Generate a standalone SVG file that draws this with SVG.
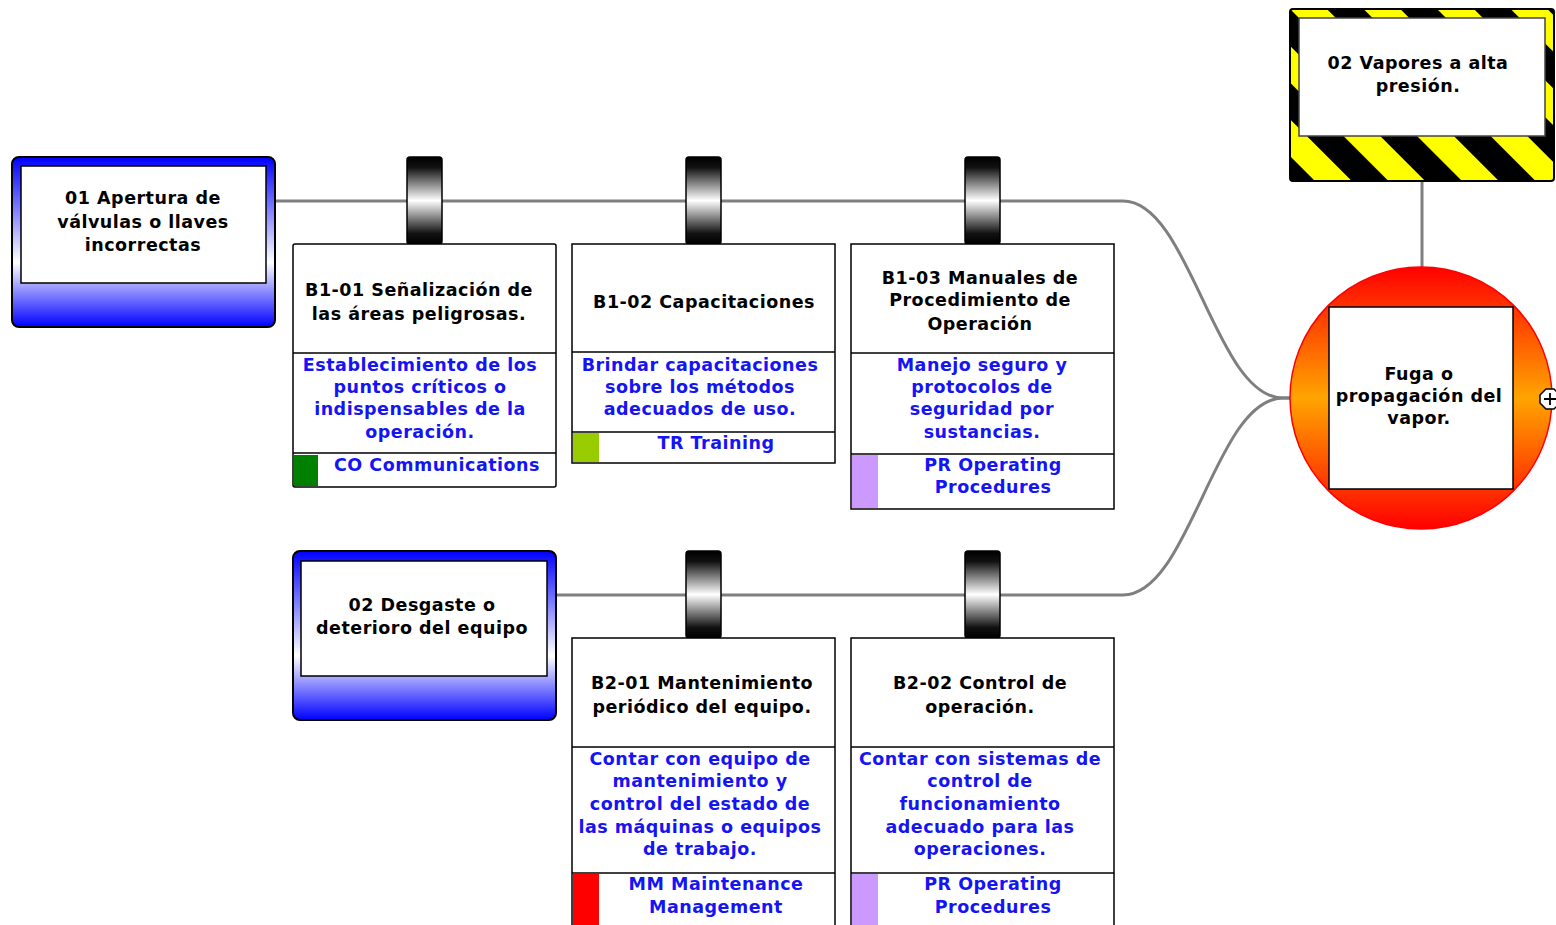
<svg xmlns="http://www.w3.org/2000/svg" width="1556" height="925" viewBox="0 0 1556 925">
  <defs>
    <linearGradient id="threatFill" x1="0" y1="0" x2="0" y2="1">
      <stop offset="0" stop-color="#0000ff"/>
      <stop offset="0.62" stop-color="#ffffff"/>
      <stop offset="1" stop-color="#0000ff"/>
    </linearGradient>
    <linearGradient id="pegFill" x1="0" y1="0" x2="0" y2="1">
      <stop offset="0" stop-color="#000000"/>
      <stop offset="0.12" stop-color="#111111"/>
      <stop offset="0.5" stop-color="#ffffff"/>
      <stop offset="0.88" stop-color="#111111"/>
      <stop offset="1" stop-color="#000000"/>
    </linearGradient>
    <linearGradient id="eventFill" x1="0" y1="0" x2="0" y2="1">
      <stop offset="0" stop-color="#ff0000"/>
      <stop offset="0.5" stop-color="#ffa500"/>
      <stop offset="1" stop-color="#ff0000"/>
    </linearGradient>
    <pattern id="hazardStripes" width="52" height="52" patternUnits="userSpaceOnUse" patternTransform="translate(1290,9) rotate(-45)">
      <rect x="0" y="0" width="52" height="52" fill="#000000"/>
      <rect x="0" y="0" width="26" height="52" fill="#ffff00"/>
    </pattern>
  </defs>
  <style>
    .t { font-family: "DejaVu Sans", Verdana, sans-serif; font-weight: bold; font-size: 17.5px; letter-spacing: 0.5px; text-anchor: middle; fill: #000000; }
    .d { fill: #1414f5; }
    .box { fill: #ffffff; stroke: #000000; stroke-width: 1.5; }
    .threat { fill: url(#threatFill); stroke: #000000; stroke-width: 2; }
    .peg { fill: url(#pegFill); stroke: #000000; stroke-width: 1.5; }
    .conn { fill: none; stroke: #7f7f7f; stroke-width: 3; }
  </style>

  <rect width="1556" height="925" fill="#ffffff"/>

  <!-- connectors -->
  <g id="connectors">
    <path class="conn" d="M275,201 H1123 C1190,201 1215,398 1283,398 H1291"/>
    <path class="conn" d="M556,595 H1123 C1190,595 1215,398 1283,398 H1291"/>
    <path class="conn" d="M1422,181 V268"/>
  </g>

  <!-- threat 01 -->
  <g id="threat-01">
    <rect class="threat" x="12" y="157" width="263" height="170" rx="7"/>
    <rect class="box" x="21" y="166" width="245" height="117"/>
    <text class="t" x="143" y="204">01 Apertura de</text>
    <text class="t" x="143" y="228">válvulas o llaves</text>
    <text class="t" x="143" y="251">incorrectas</text>
  </g>

  <!-- barrier B1-01 -->
  <g id="barrier-b1-01">
    <rect class="peg" x="407" y="157" width="35" height="87" rx="3"/>
    <rect class="box" x="293" y="244" width="263" height="243" rx="2"/>
    <line x1="293" y1="353" x2="556" y2="353" stroke="#000" stroke-width="1.5"/>
    <line x1="293" y1="453" x2="556" y2="453" stroke="#000" stroke-width="1.5"/>
    <rect x="294" y="455" width="24" height="31" fill="#008000"/>
    <text class="t" x="419" y="296">B1-01 Señalización de</text>
    <text class="t" x="419" y="320">las áreas peligrosas.</text>
    <text class="t d" x="420" y="371">Establecimiento de los</text>
    <text class="t d" x="420" y="393">puntos críticos o</text>
    <text class="t d" x="420" y="415">indispensables de la</text>
    <text class="t d" x="420" y="438">operación.</text>
    <text class="t d" x="437" y="471">CO Communications</text>
  </g>

  <!-- barrier B1-02 -->
  <g id="barrier-b1-02">
    <rect class="peg" x="686" y="157" width="35" height="87" rx="3"/>
    <rect class="box" x="572" y="244" width="263" height="219"/>
    <line x1="572" y1="352" x2="835" y2="352" stroke="#000" stroke-width="1.5"/>
    <line x1="572" y1="432" x2="835" y2="432" stroke="#000" stroke-width="1.5"/>
    <rect x="573" y="433" width="26" height="29" fill="#99cc00"/>
    <text class="t" x="704" y="308">B1-02 Capacitaciones</text>
    <text class="t d" x="700" y="371">Brindar capacitaciones</text>
    <text class="t d" x="700" y="393">sobre los métodos</text>
    <text class="t d" x="700" y="415">adecuados de uso.</text>
    <text class="t d" x="716" y="449">TR Training</text>
  </g>

  <!-- barrier B1-03 -->
  <g id="barrier-b1-03">
    <rect class="peg" x="965" y="157" width="35" height="87" rx="3"/>
    <rect class="box" x="851" y="244" width="263" height="265"/>
    <line x1="851" y1="353" x2="1114" y2="353" stroke="#000" stroke-width="1.5"/>
    <line x1="851" y1="454" x2="1114" y2="454" stroke="#000" stroke-width="1.5"/>
    <rect x="852" y="455" width="26" height="53" fill="#cc99ff"/>
    <text class="t" x="980" y="284">B1-03 Manuales de</text>
    <text class="t" x="980" y="306">Procedimiento de</text>
    <text class="t" x="980" y="330">Operación</text>
    <text class="t d" x="982" y="371">Manejo seguro y</text>
    <text class="t d" x="982" y="393">protocolos de</text>
    <text class="t d" x="982" y="415">seguridad por</text>
    <text class="t d" x="982" y="438">sustancias.</text>
    <text class="t d" x="993" y="471">PR Operating</text>
    <text class="t d" x="993" y="493">Procedures</text>
  </g>

  <!-- threat 02 -->
  <g id="threat-02">
    <rect class="threat" x="293" y="551" width="263" height="169" rx="7"/>
    <rect class="box" x="301" y="561" width="246" height="115"/>
    <text class="t" x="422" y="611">02 Desgaste o</text>
    <text class="t" x="422" y="634">deterioro del equipo</text>
  </g>

  <!-- barrier B2-01 -->
  <g id="barrier-b2-01">
    <rect class="peg" x="686" y="551" width="35" height="87" rx="3"/>
    <rect class="box" x="572" y="638" width="263" height="300"/>
    <line x1="572" y1="747" x2="835" y2="747" stroke="#000" stroke-width="1.5"/>
    <line x1="572" y1="873" x2="835" y2="873" stroke="#000" stroke-width="1.5"/>
    <rect x="573" y="874" width="26" height="51" fill="#ff0000"/>
    <text class="t" x="702" y="689">B2-01 Mantenimiento</text>
    <text class="t" x="702" y="713">periódico del equipo.</text>
    <text class="t d" x="700" y="765">Contar con equipo de</text>
    <text class="t d" x="700" y="787">mantenimiento y</text>
    <text class="t d" x="700" y="810">control del estado de</text>
    <text class="t d" x="700" y="833">las máquinas o equipos</text>
    <text class="t d" x="700" y="855">de trabajo.</text>
    <text class="t d" x="716" y="890">MM Maintenance</text>
    <text class="t d" x="716" y="913">Management</text>
  </g>

  <!-- barrier B2-02 -->
  <g id="barrier-b2-02">
    <rect class="peg" x="965" y="551" width="35" height="87" rx="3"/>
    <rect class="box" x="851" y="638" width="263" height="300"/>
    <line x1="851" y1="747" x2="1114" y2="747" stroke="#000" stroke-width="1.5"/>
    <line x1="851" y1="873" x2="1114" y2="873" stroke="#000" stroke-width="1.5"/>
    <rect x="852" y="874" width="26" height="51" fill="#cc99ff"/>
    <text class="t" x="980" y="689">B2-02 Control de</text>
    <text class="t" x="980" y="713">operación.</text>
    <text class="t d" x="980" y="765">Contar con sistemas de</text>
    <text class="t d" x="980" y="787">control de</text>
    <text class="t d" x="980" y="810">funcionamiento</text>
    <text class="t d" x="980" y="833">adecuado para las</text>
    <text class="t d" x="980" y="855">operaciones.</text>
    <text class="t d" x="993" y="890">PR Operating</text>
    <text class="t d" x="993" y="913">Procedures</text>
  </g>

  <!-- hazard -->
  <g id="hazard">
    <rect x="1290" y="9" width="264" height="172" rx="3" fill="url(#hazardStripes)" stroke="#000" stroke-width="2"/>
    <rect x="1299" y="18" width="246" height="118" fill="#ffffff" stroke="#444" stroke-width="1.5"/>
    <text class="t" x="1418" y="69">02 Vapores a alta</text>
    <text class="t" x="1418" y="92">presión.</text>
  </g>

  <!-- top event -->
  <g id="top-event">
    <circle cx="1421" cy="398" r="131" fill="url(#eventFill)" stroke="#ff0000" stroke-width="1.5"/>
    <rect class="box" x="1329" y="307" width="184" height="182"/>
    <text class="t" x="1419" y="380">Fuga o</text>
    <text class="t" x="1419" y="402">propagación del</text>
    <text class="t" x="1419" y="424">vapor.</text>
    <polygon points="1546,389 1554,389 1560,395 1560,403 1554,409 1546,409 1540,403 1540,395" fill="#ffffff" stroke="#000" stroke-width="1.5"/>
    <path d="M1544,399 H1556 M1550,393 V405" stroke="#000" stroke-width="1.8"/>
  </g>
</svg>
